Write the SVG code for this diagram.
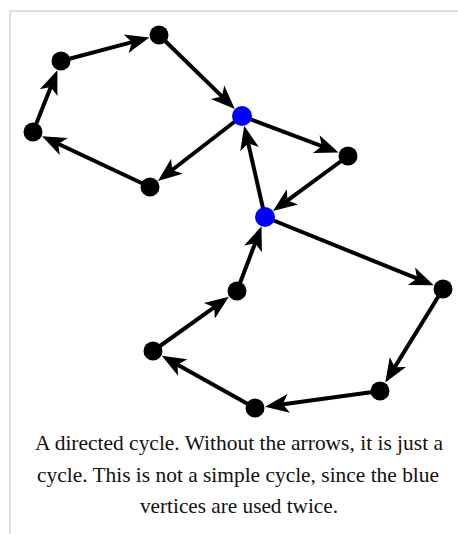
<svg xmlns="http://www.w3.org/2000/svg" width="458" height="534" viewBox="0 0 458 534">
<defs>
<style>
.frame{stroke:#d3d3d3;stroke-width:1.5;fill:none}
.edge{stroke:#000;stroke-width:4;fill:none;marker-end:url(#arr)}
.v{fill:#000}
.b{fill:#0000ff}
.cap{font-family:"Liberation Serif","Times New Roman",serif;font-size:21px;fill:#111;text-anchor:middle}
</style>
<marker id="arr" viewBox="-12 -10 26 20" refX="0" refY="0" markerWidth="26" markerHeight="20" markerUnits="userSpaceOnUse" orient="auto" overflow="visible">
<path d="M13,0 L-11,-9.5 L-5,0 L-11,9.5 Z" fill="#000"/>
</marker>
</defs>
<rect width="458" height="534" fill="#fff"/>
<path class="frame" d="M10,534 V11 H458"/>
<g id="connectors">
<line class="edge" x1="61" y1="61" x2="136.8" y2="40.9"/>
<line class="edge" x1="33" y1="132" x2="52.6" y2="82.4"/>
<line class="edge" x1="150" y1="187" x2="53.8" y2="141.8"/>
<line class="edge" x1="242" y1="116" x2="168.2" y2="173.0"/>
<line class="edge" x1="159" y1="35" x2="225.5" y2="99.9"/>
<line class="edge" x1="242" y1="116" x2="326.5" y2="147.9"/>
<line class="edge" x1="348" y1="156" x2="283.5" y2="203.4"/>
<line class="edge" x1="265" y1="217" x2="247.1" y2="138.4"/>
<line class="edge" x1="265" y1="217" x2="421.7" y2="280.4"/>
<line class="edge" x1="443" y1="289" x2="392.1" y2="371.4"/>
<line class="edge" x1="380" y1="391" x2="277.8" y2="404.9"/>
<line class="edge" x1="255" y1="408" x2="173.1" y2="362.2"/>
<line class="edge" x1="153" y1="351" x2="218.3" y2="304.4"/>
<line class="edge" x1="237" y1="291" x2="256.9" y2="238.5"/>
</g>
<g id="nA"><circle class="v" cx="159" cy="35" r="9.5"/></g>
<g id="nB"><circle class="v" cx="61" cy="61" r="9.5"/></g>
<g id="nC"><circle class="v" cx="33" cy="132" r="9.5"/></g>
<g id="nD"><circle class="v" cx="150" cy="187" r="9.5"/></g>
<g id="nE"><circle class="b" cx="242" cy="116" r="10"/></g>
<g id="nF"><circle class="v" cx="348" cy="156" r="9.5"/></g>
<g id="nG"><circle class="b" cx="265" cy="217" r="10"/></g>
<g id="nH"><circle class="v" cx="443" cy="289" r="9.5"/></g>
<g id="nI"><circle class="v" cx="380" cy="391" r="9.5"/></g>
<g id="nJ"><circle class="v" cx="255" cy="408" r="9.5"/></g>
<g id="nK"><circle class="v" cx="153" cy="351" r="9.5"/></g>
<g id="nL"><circle class="v" cx="237" cy="291" r="9.5"/></g>
<g id="caption">
<text class="cap" x="239" y="450" textLength="408" lengthAdjust="spacingAndGlyphs">A directed cycle. Without the arrows, it is just a</text>
<text class="cap" x="238" y="482" textLength="402" lengthAdjust="spacingAndGlyphs">cycle. This is not a simple cycle, since the blue</text>
<text class="cap" x="239" y="513" textLength="198" lengthAdjust="spacingAndGlyphs">vertices are used twice.</text>
</g>
</svg>
